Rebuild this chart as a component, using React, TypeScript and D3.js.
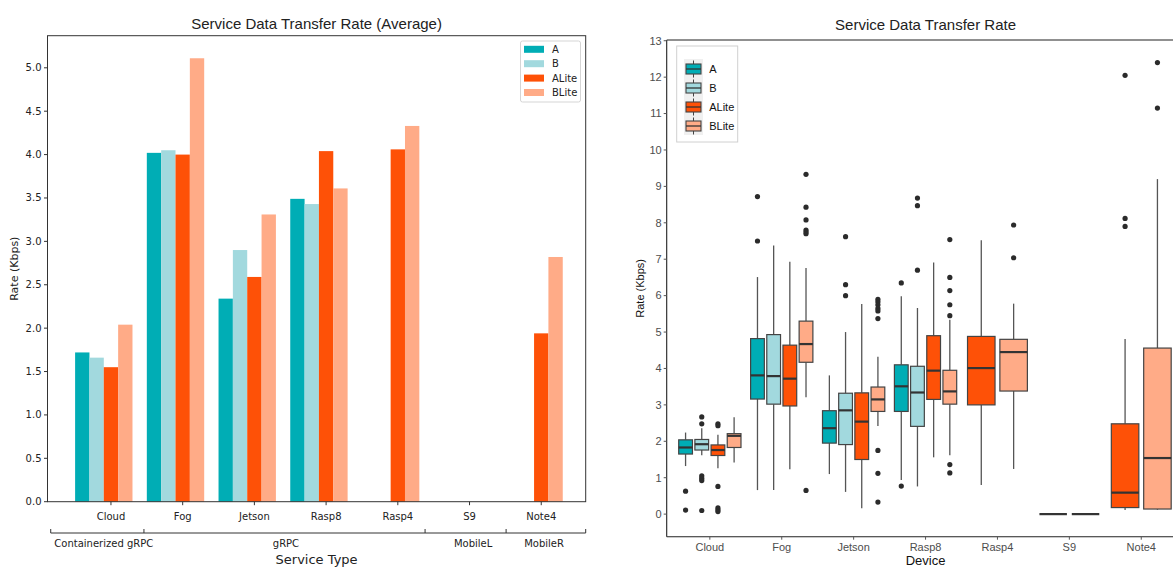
import React, { useEffect, useRef } from "react";
import * as d3 from "d3";

const categories = ["Cloud", "Fog", "Jetson", "Rasp8", "Rasp4", "S9", "Note4"];
const seriesNames = ["A", "B", "ALite", "BLite"];
const seriesColors = ["#00adb5", "#a2d9de", "#fe5107", "#ffab87"];

// averages per category (null = no run for that device)
const avgA = [1.72, 4.02, 2.34, 3.49, null, 0, null];
const avgB = [1.66, 4.05, 2.9, 3.43, null, 0, null];
const avgALite = [1.55, 4.0, 2.59, 4.04, 4.06, null, 1.94];
const avgBLite = [2.04, 5.11, 3.31, 3.61, 4.33, null, 2.82];

const avgTicks = [0, 0.5, 1, 1.5, 2, 2.5, 3, 3.5, 4, 4.5, 5];
const serviceGroups = ["Containerized gRPC", "gRPC", "MobileL", "MobileR"];
const serviceBounds = [-0.84, 0.46, 4.38, 5.51, 6.62];
const serviceLabelAt = [-0.1, 2.44, 5.05, 6.04];

// box stats: [whiskerLow, q1, median, q3, whiskerHigh]
const boxA = [[1.32, 1.65, 1.83, 2.04, 2.24], [0.66, 3.16, 3.81, 4.82, 6.51], [1.1, 1.95, 2.36, 2.84, 3.81], [0.94, 2.82, 3.51, 4.1, 5.98], null, [0, 0, 0, 0, 0], null];
const boxB = [[1.62, 1.76, 1.92, 2.05, 2.36], [0.66, 3.02, 3.79, 4.93, 7.38], [0.61, 1.91, 2.85, 3.32, 5.0], [0.76, 2.41, 3.34, 4.06, 5.66], null, [0, 0, 0, 0, 0], null];
const boxALite = [[1.26, 1.61, 1.76, 1.9, 2.18], [1.23, 2.97, 3.72, 4.64, 6.93], [0.16, 1.5, 2.54, 3.33, 5.77], [1.56, 3.15, 3.94, 4.9, 6.91], [0.8, 3.0, 4.01, 4.88, 7.52], null, [0.11, 0.18, 0.59, 2.48, 4.81]];
const boxBLite = [[1.42, 1.83, 2.15, 2.21, 2.66], [3.21, 4.17, 4.67, 5.3, 6.76], [2.42, 2.82, 3.15, 3.49, 4.32], [1.62, 3.02, 3.37, 3.95, 5.34], [1.24, 3.38, 4.45, 4.8, 5.78], null, [0.12, 0.14, 1.54, 4.56, 9.2]];

const outA = [[0.63, 0.11], [8.72, 7.5], [], [6.35, 0.77], [], [], []];
const outB = [[2.67, 2.48, 1.05, 0.98, 0.92, 0.1], [], [7.62, 6.3, 6.0], [8.68, 8.47, 6.7], [], [], []];
const outALite = [[2.48, 2.43, 0.76, 0.17, 0.12, 0.07], [], [], [], [], [], [12.05, 8.12, 7.9]];
const outBLite = [[], [9.33, 8.43, 8.08, 7.8, 7.75, 7.7, 0.65], [5.9, 5.83, 5.75, 5.65, 5.58, 5.37, 1.75, 1.12, 0.33], [7.54, 6.5, 6.14, 5.75, 5.45, 1.36, 1.13], [7.94, 7.04], [], [12.4, 11.15]];

const rateTicks = d3.range(0, 14);

const mplFont = "'DejaVu Sans', sans-serif";
const arial = "'Liberation Sans', Arial, sans-serif";

function drawBars(svg) {
  const x = d3.scaleLinear().domain([-0.885, 6.62]).range([47.5, 585.7]);
  const y = d3.scaleLinear().domain([0, 5.37]).range([501.7, 35.7]);
  const offsets = [-0.4, -0.2, 0, 0.2];
  const barW = x(0.2) - x(0);
  const avgs = [avgA, avgB, avgALite, avgBLite];

  const g = svg.append("g");

  avgs.forEach((vals, s) => {
    g.selectAll(null)
      .data(vals.map((v, i) => ({ v, i })).filter((d) => d.v !== null))
      .enter().append("rect")
      .attr("x", (d) => x(d.i + offsets[s]) - barW / 2)
      .attr("width", barW)
      .attr("y", (d) => y(d.v))
      .attr("height", (d) => y(0) - y(d.v))
      .attr("fill", seriesColors[s]);
  });

  // frame
  g.append("rect")
    .attr("x", x.range()[0]).attr("y", y.range()[1])
    .attr("width", x.range()[1] - x.range()[0])
    .attr("height", y.range()[0] - y.range()[1])
    .attr("fill", "none").attr("stroke", "#333").attr("stroke-width", 1);

  // y ticks
  const yt = g.selectAll(".yt").data(avgTicks).enter().append("g")
    .attr("transform", (d) => `translate(${x.range()[0]},${y(d)})`);
  yt.append("line").attr("x1", -3.5).attr("x2", 0).attr("stroke", "#333");
  yt.append("text").attr("x", -6).attr("dy", "0.35em")
    .attr("text-anchor", "end").style("font", `10px ${mplFont}`).attr("fill", "#222")
    .text((d) => d.toFixed(1));

  // x ticks
  const xt = g.selectAll(".xt").data(categories).enter().append("g")
    .attr("transform", (_, i) => `translate(${x(i)},${y(0)})`);
  xt.append("line").attr("y1", 0).attr("y2", 3.5).attr("stroke", "#333");
  xt.append("text").attr("y", 18).attr("text-anchor", "middle")
    .style("font", `10px ${mplFont}`).attr("fill", "#222").text((d) => d);

  // service type brackets
  const by = 533;
  g.append("line")
    .attr("x1", x(serviceBounds[0])).attr("x2", x(serviceBounds[serviceBounds.length - 1]))
    .attr("y1", by).attr("y2", by).attr("stroke", "#333");
  g.selectAll(".bt").data(serviceBounds).enter().append("line")
    .attr("x1", (d) => x(d)).attr("x2", (d) => x(d))
    .attr("y1", by - 4).attr("y2", by).attr("stroke", "#333");
  g.selectAll(".bl").data(serviceGroups).enter().append("text")
    .attr("x", (_, i) => x(serviceLabelAt[i])).attr("y", 547)
    .attr("text-anchor", "middle").style("font", `10px ${mplFont}`).attr("fill", "#222")
    .text((d) => d);

  g.append("text").attr("x", (x.range()[0] + x.range()[1]) / 2).attr("y", 564)
    .attr("text-anchor", "middle").style("font", `13px ${mplFont}`).attr("fill", "#222")
    .text("Service Type");
  g.append("text")
    .attr("transform", `translate(18,${(y.range()[0] + y.range()[1]) / 2}) rotate(-90)`)
    .attr("text-anchor", "middle").style("font", `11px ${mplFont}`).attr("fill", "#222")
    .text("Rate (Kbps)");
  g.append("text").attr("x", (x.range()[0] + x.range()[1]) / 2).attr("y", 29)
    .attr("text-anchor", "middle").style("font", `15px ${arial}`).attr("fill", "#222")
    .text("Service Data Transfer Rate (Average)");

  // legend
  const lg = g.append("g").attr("transform", "translate(520.5,41)");
  lg.append("rect").attr("width", 60).attr("height", 61).attr("rx", 2)
    .attr("fill", "white").attr("stroke", "#d5d5d5");
  seriesNames.forEach((name, s) => {
    const cy = 8.3 + s * 14.4;
    lg.append("rect").attr("x", 3.5).attr("y", cy - 3.5).attr("width", 20).attr("height", 7)
      .attr("fill", seriesColors[s]);
    lg.append("text").attr("x", 31.5).attr("y", cy).attr("dy", "0.35em")
      .style("font", `10px ${mplFont}`).attr("fill", "#222").text(name);
  });
}

function drawBoxes(svg) {
  const x = d3.scaleLinear().domain([-0.6, 6.6]).range([666.7, 1184.4]);
  const y = d3.scaleLinear().domain([-0.62, 13.02]).range([536.7, 40]);
  const boxes = [boxA, boxB, boxALite, boxBLite];
  const outs = [outA, outB, outALite, outBLite];
  const g = svg.append("g");

  categories.forEach((_, i) => {
    const present = boxes.map((b, s) => (b[i] ? s : -1)).filter((s) => s >= 0);
    const n = present.length;
    const slot = 0.9 / n;
    present.forEach((s, k) => {
      const [lo, q1, med, q3, hi] = boxes[s][i];
      const cx = i - 0.45 + slot * (k + 0.5);
      const half = (slot * 0.85) / 2;
      const px = x(cx);
      g.append("line").attr("x1", px).attr("x2", px).attr("y1", y(hi)).attr("y2", y(q3))
        .attr("stroke", "#555").attr("stroke-width", 1.3);
      g.append("line").attr("x1", px).attr("x2", px).attr("y1", y(q1)).attr("y2", y(lo))
        .attr("stroke", "#555").attr("stroke-width", 1.3);
      g.append("rect").attr("x", x(cx - half)).attr("width", x(cx + half) - x(cx - half))
        .attr("y", y(q3)).attr("height", Math.max(0, y(q1) - y(q3)))
        .attr("fill", seriesColors[s]).attr("stroke", "#444").attr("stroke-width", 1.2);
      g.append("line").attr("x1", x(cx - half)).attr("x2", x(cx + half))
        .attr("y1", y(med)).attr("y2", y(med)).attr("stroke", "#333").attr("stroke-width", 2.2);
      g.selectAll(null).data(outs[s][i]).enter().append("circle")
        .attr("cx", px).attr("cy", (d) => y(d)).attr("r", 2.6).attr("fill", "#2b2b2b");
    });
  });

  // axes lines
  g.append("line").attr("x1", x.range()[0]).attr("x2", x.range()[0])
    .attr("y1", y.range()[1]).attr("y2", y.range()[0]).attr("stroke", "#222").attr("stroke-width", 1.1);
  g.append("line").attr("x1", x.range()[0]).attr("x2", x.range()[1])
    .attr("y1", y.range()[0]).attr("y2", y.range()[0]).attr("stroke", "#222").attr("stroke-width", 1.1);
  g.append("line").attr("x1", x.range()[0]).attr("x2", x.range()[1])
    .attr("y1", y.range()[1]).attr("y2", y.range()[1]).attr("stroke", "#222").attr("stroke-width", 1.1);

  const yt = g.selectAll(".yt").data(rateTicks).enter().append("g")
    .attr("transform", (d) => `translate(${x.range()[0]},${y(d)})`);
  yt.append("line").attr("x1", -3).attr("x2", 0).attr("stroke", "#555");
  yt.append("text").attr("x", -5).attr("dy", "0.35em").attr("text-anchor", "end")
    .style("font", `11px ${arial}`).attr("fill", "#4d4d4d").text((d) => d);

  const xt = g.selectAll(".xt").data(categories).enter().append("g")
    .attr("transform", (_, i) => `translate(${x(i)},${y.range()[0]})`);
  xt.append("line").attr("y1", 0).attr("y2", 3).attr("stroke", "#555");
  xt.append("text").attr("y", 14.5).attr("text-anchor", "middle")
    .style("font", `11px ${arial}`).attr("fill", "#4d4d4d").text((d) => d);

  const midX = (x.range()[0] + x.range()[1]) / 2;
  g.append("text").attr("x", midX).attr("y", 565).attr("text-anchor", "middle")
    .style("font", `13px ${arial}`).attr("fill", "#111").text("Device");
  g.append("text")
    .attr("transform", `translate(644,${(y.range()[0] + y.range()[1]) / 2}) rotate(-90)`)
    .attr("text-anchor", "middle").style("font", `11px ${arial}`).attr("fill", "#111")
    .text("Rate (Kbps)");
  g.append("text").attr("x", midX).attr("y", 30).attr("text-anchor", "middle")
    .style("font", `15px ${arial}`).attr("fill", "#222").text("Service Data Transfer Rate");

  // legend
  const lg = g.append("g").attr("transform", "translate(676.7,46)");
  lg.append("rect").attr("width", 61).attr("height", 96).attr("fill", "white").attr("stroke", "#d0d0d0");
  lg.append("rect").attr("x", 7.3).attr("y", 13).attr("width", 19).attr("height", 76).attr("fill", "#f0f0f0");
  seriesNames.forEach((name, s) => {
    const cy = 23 + s * 19;
    const kx = 16.8;
    lg.append("line").attr("x1", kx).attr("x2", kx).attr("y1", cy - 8.5).attr("y2", cy + 8.5)
      .attr("stroke", "#444");
    lg.append("rect").attr("x", kx - 7.5).attr("y", cy - 5).attr("width", 15).attr("height", 10)
      .attr("fill", seriesColors[s]).attr("stroke", "#444").attr("stroke-width", 1.1);
    lg.append("line").attr("x1", kx - 7.5).attr("x2", kx + 7.5).attr("y1", cy).attr("y2", cy)
      .attr("stroke", "#333").attr("stroke-width", 1.3);
    lg.append("text").attr("x", 32.5).attr("y", cy).attr("dy", "0.35em")
      .style("font", `11px ${arial}`).attr("fill", "#111").text(name);
  });
}

export default function App() {
  const ref = useRef(null);

  useEffect(() => {
    const svg = d3.select(ref.current);
    svg.selectAll("*").remove();
    svg.append("rect").attr("width", 1173).attr("height", 567).attr("fill", "white");
    drawBars(svg);
    drawBoxes(svg);
  }, []);

  return (
    <svg ref={ref} width={1173} height={567}
      style={{ position: "absolute", left: 0, top: 0, display: "block" }} />
  );
}
